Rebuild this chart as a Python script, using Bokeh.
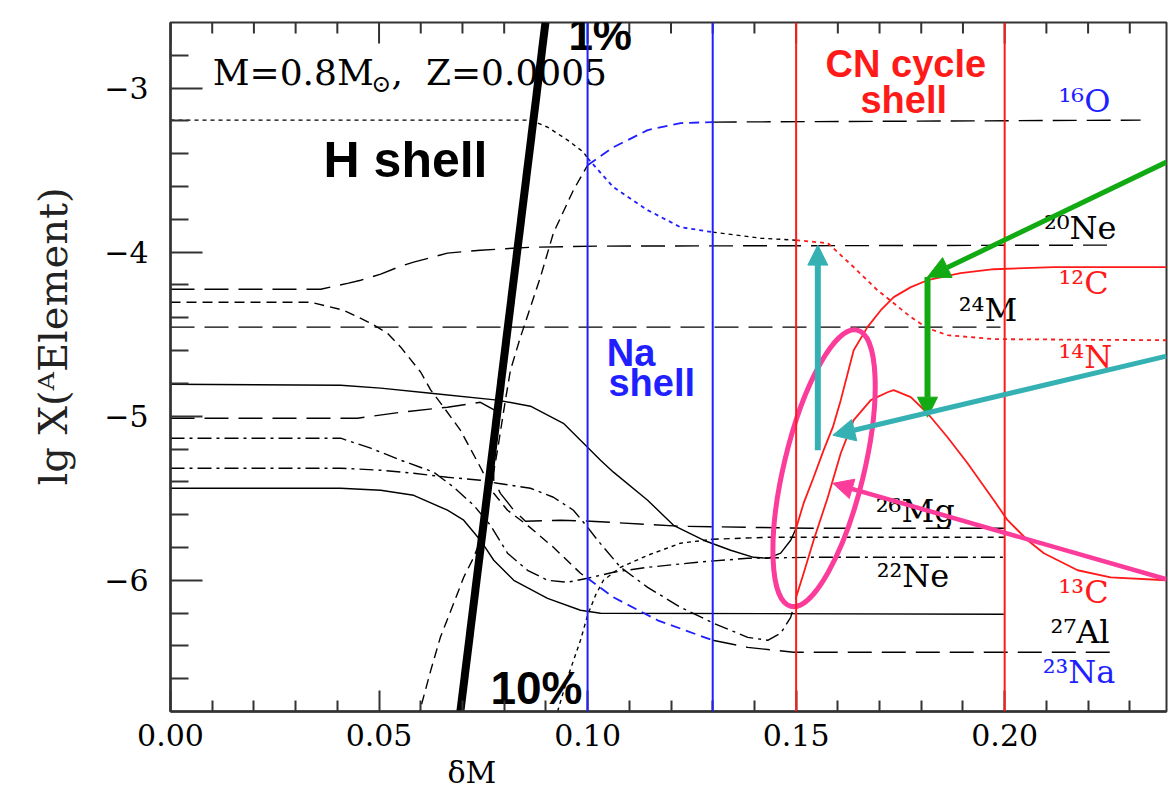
from bokeh.plotting import figure
from bokeh.models import Range1d, FixedTicker, Span, Arrow, NormalHead, NumeralTickFormatter, Title
from bokeh.core.properties import value
from bokeh.embed import file_html
from bokeh.resources import INLINE

# ---------------- data (delta M, lg X) ----------------
N14_X = [0.0, 0.0863, 0.0904, 0.0952, 0.0990, 0.1000, 0.1062, 0.1144, 0.1223, 0.1300, 0.1415, 0.1500,
         0.1576, 0.1638, 0.1695, 0.1734, 0.1775, 0.1815, 0.1863, 0.1974, 0.2388]
N14_Y = [-3.195, -3.195, -3.238, -3.317, -3.390, -3.427, -3.604, -3.744, -3.848, -3.878, -3.915, -3.927,
         -3.945, -4.091, -4.232, -4.311, -4.396, -4.463, -4.506, -4.530, -4.537]

O16_X = [0.0592, 0.0624, 0.0647, 0.0679, 0.0703, 0.0727, 0.0743, 0.0763, 0.0784, 0.0803, 0.0815, 0.0839,
         0.0863, 0.0887, 0.0918, 0.0966, 0.1000, 0.1062, 0.1144, 0.1223, 0.1300, 0.2326]
O16_Y = [-6.85, -6.549, -6.348, -6.140, -5.982, -5.860, -5.756, -5.512, -5.207, -4.902, -4.720, -4.518,
         -4.335, -4.152, -3.884, -3.622, -3.470, -3.360, -3.256, -3.213, -3.207, -3.195]

NE20_X = [0.0, 0.0360, 0.0427, 0.0456, 0.0504, 0.0552, 0.0583, 0.0664, 0.0743, 0.0863, 0.1031, 0.2262]
NE20_Y = [-4.226, -4.226, -4.189, -4.171, -4.134, -4.085, -4.061, -4.006, -3.988, -3.970, -3.963, -3.957]

MG24_X = [0.0, 0.1990]
MG24_Y = [-4.457, -4.457]

NA23_X = [0.0, 0.0336, 0.0415, 0.0480, 0.0520, 0.0552, 0.0600, 0.0624, 0.0655, 0.0695, 0.0743, 0.0775,
          0.0808, 0.0856, 0.0918, 0.0983, 0.1000, 0.1062, 0.1168, 0.1300, 0.1384, 0.1494, 0.2254]
NA23_Y = [-4.305, -4.305, -4.354, -4.433, -4.494, -4.579, -4.732, -4.841, -4.945, -5.085, -5.311, -5.470,
          -5.573, -5.665, -5.799, -5.957, -5.988, -6.104, -6.244, -6.366, -6.409, -6.439, -6.439]

C12_X = [0.0, 0.0408, 0.0504, 0.0624, 0.0784, 0.0863, 0.0942, 0.0983, 0.1031, 0.1062, 0.1144, 0.1206,
         0.1278, 0.1343, 0.1398, 0.1432, 0.1463, 0.1487, 0.1500, 0.1518, 0.1542, 0.1566, 0.1588, 0.1607,
         0.1638, 0.1671, 0.1703, 0.1734, 0.1775, 0.1815, 0.1894, 0.1974, 0.2118, 0.2388]
C12_Y = [-4.805, -4.811, -4.829, -4.860, -4.902, -4.939, -5.043, -5.146, -5.268, -5.341, -5.512, -5.665,
         -5.756, -5.817, -5.860, -5.866, -5.835, -5.756, -5.683, -5.530, -5.372, -5.207, -5.067, -4.902,
         -4.598, -4.457, -4.354, -4.274, -4.213, -4.171, -4.128, -4.104, -4.091, -4.091]

C13_X = [0.0, 0.0408, 0.0504, 0.0583, 0.0664, 0.0743, 0.0784, 0.0863, 0.0918, 0.0966, 0.1000, 0.1024,
         0.1079, 0.1144, 0.1223, 0.1302, 0.1384, 0.1432, 0.1463, 0.1487, 0.1500, 0.1518, 0.1542, 0.1576,
         0.1607, 0.1638, 0.1679, 0.1719, 0.1734, 0.1775, 0.1815, 0.1863, 0.1911, 0.1974, 0.2007, 0.2055,
         0.2094, 0.2175, 0.2254, 0.2388]
C13_Y = [-5.317, -5.317, -5.329, -5.348, -5.372, -5.390, -5.409, -5.439, -5.494, -5.573, -5.677, -5.756,
         -5.921, -6.043, -6.165, -6.262, -6.348, -6.366, -6.323, -6.226, -6.104, -5.957, -5.756, -5.494,
         -5.226, -5.024, -4.902, -4.854, -4.841, -4.884, -4.982, -5.128, -5.287, -5.512, -5.634, -5.756,
         -5.835, -5.939, -5.982, -6.000]

AL27_X = [0.0, 0.0408, 0.0504, 0.0583, 0.0664, 0.0703, 0.0743, 0.0775, 0.0823, 0.0904, 0.0983, 0.1031, 0.1998]
AL27_Y = [-5.439, -5.439, -5.451, -5.482, -5.573, -5.634, -5.756, -5.878, -6.000, -6.110, -6.183, -6.201, -6.207]

NE22_X = [0.0, 0.0408, 0.0480, 0.0552, 0.0631, 0.0679, 0.0727, 0.0767, 0.0808, 0.0856, 0.0904, 0.0952,
          0.1000, 0.1062, 0.1144, 0.1264, 0.1384, 0.1535, 0.1998]
NE22_Y = [-5.134, -5.134, -5.195, -5.268, -5.341, -5.433, -5.543, -5.665, -5.835, -5.939, -6.000, -6.012,
          -5.988, -5.951, -5.921, -5.890, -5.866, -5.860, -5.860]

MG26_X = [0.0, 0.0448, 0.0552, 0.0664, 0.0743, 0.0777, 0.0775, 0.0775, 0.0791, 0.0823, 0.0851, 0.0935,
          0.1007, 0.1223, 0.1535, 0.1998]
MG26_Y = [-5.012, -5.012, -4.976, -4.945, -4.915, -4.963, -5.207, -5.390, -5.470, -5.573, -5.640, -5.634,
          -5.640, -5.671, -5.683, -5.683]

MG25_X = [0.0928, 0.0954, 0.0983, 0.1000, 0.1019, 0.1038, 0.1079, 0.1144, 0.1223, 0.1300, 0.1432, 0.1998]
MG25_Y = [-6.80, -6.579, -6.366, -6.213, -6.091, -6.000, -5.921, -5.848, -5.774, -5.750, -5.738, -5.738]

# H-burning shell boundary (1% .. 10%)
HSHELL_X = [0.0695, 0.0899]
HSHELL_Y = [-6.80, -2.60]

NA_SHELL = [0.10, 0.13]
CN_SHELL = [0.15, 0.20]

X_MAJOR = [0.0, 0.05, 0.10, 0.15, 0.20]
X_MINOR = [0.01, 0.02, 0.03, 0.04, 0.06, 0.07, 0.08, 0.09, 0.11, 0.12, 0.13, 0.14,
           0.16, 0.17, 0.18, 0.19, 0.21, 0.22, 0.23]
Y_MAJOR = [-6, -5, -4, -3]
Y_MINOR = [-6.6, -6.4, -6.2, -5.8, -5.6, -5.4, -5.2, -4.8, -4.6, -4.4, -4.2, -3.8, -3.6, -3.4, -3.2, -2.8]

X_MIN, X_MAX = 0.0, 0.2388
Y_MIN, Y_MAX = -6.8, -2.6

# ---------------- figure ----------------
p = figure(width=1168, height=794, x_range=Range1d(X_MIN, X_MAX), y_range=Range1d(Y_MIN, Y_MAX),
           output_backend="svg", toolbar_location=None,
           min_border_left=170, min_border_right=2, min_border_top=22, min_border_bottom=83)
p.grid.visible = False
p.outline_line_color = "#333333"
p.outline_line_width = 2

AX = "#333333"
SERIF = "DejaVu Serif"
SANS = "Liberation Sans"

xa = p.xaxis[0]
xa.ticker = FixedTicker(ticks=X_MAJOR, minor_ticks=X_MINOR)
xa.formatter = NumeralTickFormatter(format="0.00")
ya = p.yaxis[0]
ya.ticker = FixedTicker(ticks=Y_MAJOR, minor_ticks=Y_MINOR)
ya.major_label_overrides = {v: "\u2212" + str(abs(v)) for v in Y_MAJOR}

for ax, mj, mn in ((xa, 21, 11), (ya, 32, 18)):
    ax.major_tick_in = mj
    ax.major_tick_out = 0
    ax.minor_tick_in = mn
    ax.minor_tick_out = 0
    ax.axis_line_color = AX
    ax.axis_line_width = 2.5
    ax.major_tick_line_color = AX
    ax.minor_tick_line_color = AX
    ax.major_tick_line_width = 2
    ax.minor_tick_line_width = 2
    ax.major_label_text_font = SERIF
    ax.major_label_text_font_size = "30px"
    ax.major_label_text_color = "black"

xa.major_label_standoff = 12
ya.major_label_standoff = 22

# axis titles (placed off-centre as in the original figure)
p.add_layout(Title(text="\u03b4M", align="left", offset=277, text_font=SERIF, text_font_size="30px",
                   text_font_style="normal", text_color="black", standoff=8), "below")
p.add_layout(Title(text="lg X(\u1d2cElement)", align="left", offset=226, text_font=SERIF,
                   text_font_size="40px", text_font_style="normal", text_color="#222222",
                   standoff=52), "left")

# tick marks on the top edge (mirrors of the bottom axis ticks)
p.rect(x=X_MAJOR, y=[Y_MAX] * len(X_MAJOR), width=2, height=42, width_units="screen",
       height_units="screen", fill_color=AX, line_color=None)
p.rect(x=X_MINOR, y=[Y_MAX] * len(X_MINOR), width=2, height=22, width_units="screen",
       height_units="screen", fill_color=AX, line_color=None)

# shell boundaries
BLUE = "#1f1fff"
RED = "#ff1a1a"
for xv in NA_SHELL:
    p.add_layout(Span(location=xv, dimension="height", line_color=BLUE, line_width=2))
for xv in CN_SHELL:
    p.add_layout(Span(location=xv, dimension="height", line_color=RED, line_width=2))

# ---------------- curves ----------------
DOT = "4 4"
MED = "10 6"
LONG = "24 10"
DASHDOT = "14 5 3 5"
SHORT = "6 5"
BLK = "black"


def seg(xs, ys, lo, hi):
    pts = [(a, b) for a, b in zip(xs, ys) if lo - 1e-9 <= a <= hi + 1e-9]
    return [a for a, b in pts], [b for a, b in pts]


def draw(xs, ys, pieces):
    for lo, hi, color, dash in pieces:
        sx, sy = seg(xs, ys, lo, hi)
        lw = 1.4 if color == BLK else 1.8
        p.line(sx, sy, line_color=color, line_dash=dash, line_width=lw)


END = 1.0
draw(NE20_X, NE20_Y, [(0, END, BLK, LONG)])
draw(MG24_X, MG24_Y, [(0, END, BLK, LONG)])
draw(MG26_X, MG26_Y, [(0, END, BLK, LONG)])
draw(AL27_X, AL27_Y, [(0, END, BLK, "solid")])
draw(NE22_X, NE22_Y, [(0, END, BLK, DASHDOT)])
draw(MG25_X, MG25_Y, [(0, 0.13, BLK, DOT), (0.13, END, BLK, SHORT)])
draw(N14_X, N14_Y, [(0, 0.10, BLK, DOT), (0.10, 0.13, BLUE, DOT), (0.13, 0.15, BLK, DOT), (0.15, END, RED, DOT)])
draw(O16_X, O16_Y, [(0, 0.10, BLK, MED), (0.10, 0.13, BLUE, MED), (0.13, END, BLK, LONG)])
draw(NA23_X, NA23_Y, [(0, 0.10, BLK, MED), (0.10, 0.13, BLUE, MED), (0.13, END, BLK, LONG)])
draw(C12_X, C12_Y, [(0, 0.15, BLK, "solid"), (0.15, END, RED, "solid")])
draw(C13_X, C13_Y, [(0, 0.15, BLK, DASHDOT), (0.15, END, RED, "solid")])

p.line(HSHELL_X, HSHELL_Y, line_color="black", line_width=8)

# ---------------- texts (anchored at their vertical middle) ----------------
def txt(x, y, s, color="black", font=SERIF, size="32px", style="normal", align="left"):
    p.text(x=[x], y=[y], text=[s], text_color=color, text_font=value(font), text_font_size=size,
           text_font_style=style, text_align=align, text_baseline="middle")

txt(0.0101, -2.902, "M=0.8M", size="36px")
txt(0.0482, -2.975, "\u2299", size="24px")
txt(0.0530, -2.902, ",\u00a0\u00a0Z=0.0005", size="36px")
txt(0.0367, -3.439, "H shell", font=SANS, size="50px", style="bold")
txt(0.0954, -2.675, "1%", font=SANS, size="44px", style="bold")
txt(0.0767, -6.659, "10%", font=SANS, size="46px", style="bold")
txt(0.1046, -4.616, "Na", color=BLUE, font=SANS, size="38px", style="bold")
txt(0.1050, -4.799, "shell", color=BLUE, font=SANS, size="38px", style="bold")
txt(0.1763, -2.854, "CN cycle", color=RED, font=SANS, size="38px", style="bold", align="center")
txt(0.1758, -3.073, "shell", color=RED, font=SANS, size="38px", style="bold", align="center")

txt(0.2129, -3.079, "\u00b9\u2076O", color=BLUE)
txt(0.2094, -3.854, "\u00b2\u2070Ne")
txt(0.2129, -4.189, "\u00b9\u00b2C", color=RED)
txt(0.1890, -4.354, "\u00b2\u2074M")
txt(0.2129, -4.640, "\u00b9\u2074N", color=RED)
txt(0.1691, -5.579, "\u00b2\u2076Mg")
txt(0.1693, -5.976, "\u00b2\u00b2Ne")
txt(0.2129, -6.073, "\u00b9\u00b3C", color=RED)
txt(0.2110, -6.317, "\u00b2\u2077Al")
txt(0.2091, -6.561, "\u00b2\u00b3Na", color=BLUE)

# ---------------- overlay annotations ----------------
TEAL = "#35b1b4"
GREEN = "#12aa12"
PINK = "#fb3c9a"

p.ellipse(x=[0.1567], y=[-5.317], width=80, height=284, angle=-0.236,
          width_units="screen", height_units="screen",
          fill_alpha=0, line_color=PINK, line_width=5)


def arrow(x0, y0, x1, y1, color, lw, size):
    p.add_layout(Arrow(end=NormalHead(size=size, fill_color=color, line_color=color),
                       x_start=x0, y_start=y0, x_end=x1, y_end=y1,
                       line_color=color, line_width=lw))

arrow(0.1552, -5.207, 0.1552, -3.957, TEAL, 6, 20)
arrow(0.2388, -3.451, 0.1815, -4.152, GREEN, 5, 22)
arrow(0.1815, -4.152, 0.1815, -5.006, GREEN, 6, 20)
arrow(0.2388, -4.634, 0.1588, -5.116, TEAL, 5, 22)
arrow(0.2388, -5.994, 0.1588, -5.409, PINK, 4.5, 20)

open("out.html", "w").write(file_html(p, INLINE))
